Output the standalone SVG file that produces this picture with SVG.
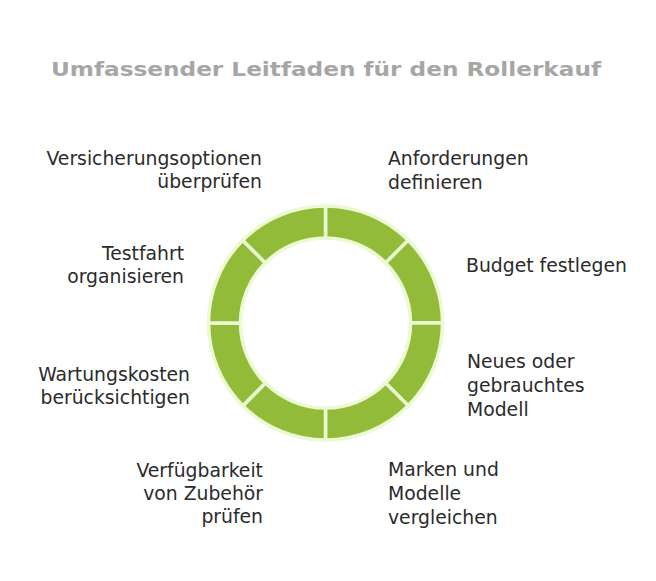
<svg xmlns="http://www.w3.org/2000/svg" width="656" height="581" viewBox="0 0 656 581">
<style>
.seg{fill:#93bb3a;stroke:#ebfad2;stroke-width:3.5;stroke-linejoin:miter}
.lbl{font-family:"DejaVu Sans","Liberation Sans",sans-serif;font-size:18.8px;fill:#2b2b2b}
.r{text-anchor:end}
.title{font-family:"DejaVu Sans","Liberation Sans",sans-serif;font-size:20px;font-weight:bold;fill:#a6a6a6;text-anchor:middle}
</style>
<rect width="656" height="581" fill="#ffffff"/>
<text class="title" x="326" y="76" textLength="550" lengthAdjust="spacingAndGlyphs">Umfassender Leitfaden für den Rollerkauf</text>
<g id="ring">
<path id="seg-anforderungen" class="seg" d="M325.5,206 A117,117 0 0 1 408.23,240.27 L385.6,262.9 A85,85 0 0 0 325.5,238 Z"/>
<path id="seg-budget" class="seg" d="M408.23,240.27 A117,117 0 0 1 442.5,323 L410.5,323 A85,85 0 0 0 385.6,262.9 Z"/>
<path id="seg-neues" class="seg" d="M442.5,323 A117,117 0 0 1 408.23,405.73 L385.6,383.1 A85,85 0 0 0 410.5,323 Z"/>
<path id="seg-marken" class="seg" d="M408.23,405.73 A117,117 0 0 1 325.5,440 L325.5,408 A85,85 0 0 0 385.6,383.1 Z"/>
<path id="seg-zubehoer" class="seg" d="M325.5,440 A117,117 0 0 1 242.77,405.73 L265.4,383.1 A85,85 0 0 0 325.5,408 Z"/>
<path id="seg-wartung" class="seg" d="M242.77,405.73 A117,117 0 0 1 208.5,323 L240.5,323 A85,85 0 0 0 265.4,383.1 Z"/>
<path id="seg-testfahrt" class="seg" d="M208.5,323 A117,117 0 0 1 242.77,240.27 L265.4,262.9 A85,85 0 0 0 240.5,323 Z"/>
<path id="seg-versicherung" class="seg" d="M242.77,240.27 A117,117 0 0 1 325.5,206 L325.5,238 A85,85 0 0 0 265.4,262.9 Z"/>
</g>
<g id="connectors"></g>
<g id="label-anforderungen"><text class="lbl" x="388" y="165">Anforderungen</text><text class="lbl" x="388" y="189">definieren</text></g>
<g id="label-budget"><text class="lbl" x="466" y="272">Budget festlegen</text></g>
<g id="label-neues"><text class="lbl" x="467" y="368">Neues oder</text><text class="lbl" x="467" y="392">gebrauchtes</text><text class="lbl" x="467" y="416">Modell</text></g>
<g id="label-marken"><text class="lbl" x="388" y="476">Marken und</text><text class="lbl" x="388" y="500">Modelle</text><text class="lbl" x="388" y="524">vergleichen</text></g>
<g id="label-zubehoer"><text class="lbl r" x="263" y="477">Verfügbarkeit</text><text class="lbl r" x="263" y="500">von Zubehör</text><text class="lbl r" x="263" y="523">prüfen</text></g>
<g id="label-wartung"><text class="lbl r" x="190" y="381">Wartungskosten</text><text class="lbl r" x="190" y="404">berücksichtigen</text></g>
<g id="label-testfahrt"><text class="lbl r" x="184" y="260">Testfahrt</text><text class="lbl r" x="184" y="283">organisieren</text></g>
<g id="label-versicherung"><text class="lbl r" x="262" y="165">Versicherungsoptionen</text><text class="lbl r" x="262" y="188">überprüfen</text></g>
</svg>
